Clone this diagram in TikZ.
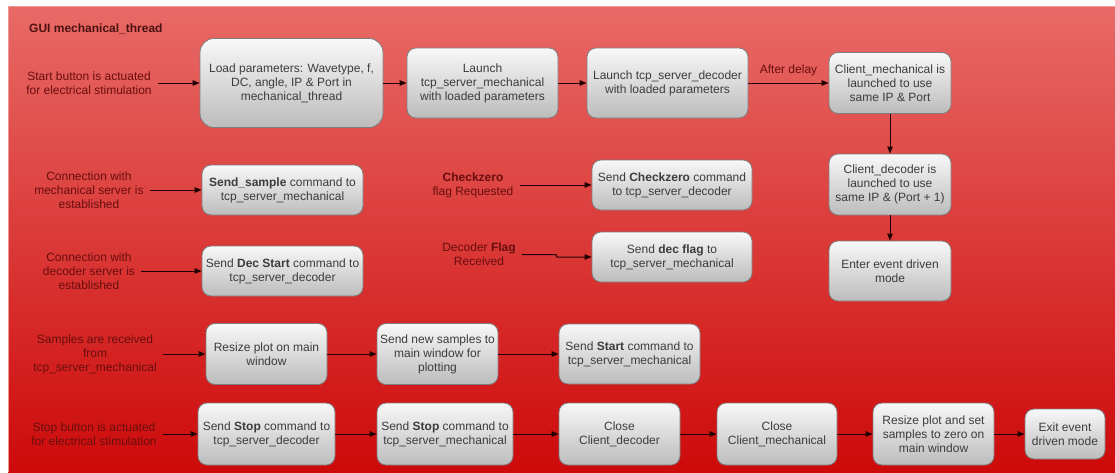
\documentclass[tikz,border=0pt]{standalone}
\usepackage{fontspec}
\setmainfont{Liberation Sans}
\usetikzlibrary{arrows.meta}

\definecolor{bgtop}{RGB}{232,106,102}
\definecolor{bgbot}{RGB}{205,10,10}
\definecolor{boxline}{RGB}{125,125,125}
\definecolor{boxtop}{RGB}{248,248,248}
\definecolor{boxbot}{RGB}{188,188,188}
\definecolor{boxtext}{RGB}{60,60,60}
\definecolor{lbltext}{RGB}{105,14,14}
\definecolor{titletext}{RGB}{75,18,18}
\definecolor{arrowline}{RGB}{35,0,0}

\tikzset{
  txt/.style={font=\fontsize{12}{14}\selectfont},
  box/.style={txt, draw=boxline, line width=0.8pt, rounded corners=9pt,
    top color=boxtop, bottom color=boxbot, text=boxtext, align=center,
    inner sep=2pt},
  lbl/.style={txt, text=lbltext, align=center, inner xsep=6pt, inner ysep=0pt},
  arr/.style={draw=arrowline, line width=1pt,
    -{Triangle[length=7pt,width=5.5pt]}},
}

\begin{document}
\begin{tikzpicture}[x=1pt,y=-1pt]
\useasboundingbox (0,0) rectangle (1115,472);

% red background panel
\shade[top color=bgtop, bottom color=bgbot] (8,6) rectangle (1115,472);
\draw[bgtop!70!white, line width=0.8pt] (8,6.4) -- (1115,6.4);
\draw[bgtop!70!white, line width=0.8pt] (8.4,6) -- (8.4,472);

\node[txt, font=\bfseries\fontsize{12}{14}\selectfont, text=titletext,
  anchor=west, inner sep=0pt] (title) at (29,29) {GUI mechanical\_thread};

% start sequence
\node[lbl] (startlbl) at (89,83) {Start button is actuated\\for electrical stimulation};
\node[box, minimum width=183, minimum height=89, rounded corners=14pt] (load) at (291.5,83)
  {Load parameters: Wavetype, f,\\DC, angle, IP \& Port in\\mechanical\_thread};
\node[box, minimum width=151, minimum height=70] (lsm) at (482.5,83)
  {Launch\\tcp\_server\_mechanical\\with loaded parameters};
\node[box, minimum width=161, minimum height=70] (lsd) at (667.5,83)
  {Launch tcp\_server\_decoder\\with loaded parameters};
\node[box, minimum width=122, minimum height=61] (cm) at (890,83)
  {Client\_mechanical is\\launched to use\\same IP \& Port};
\node[box, minimum width=122, minimum height=61] (cd) at (890,184.5)
  {Client\_decoder is\\launched to use\\same IP \& (Port + 1)};
\node[box, minimum width=122, minimum height=60] (ev) at (890,271)
  {Enter event driven\\mode};

\draw[arr] (startlbl.east) -- (load.west);
\draw[arr] (load.east) -- (lsm.west);
\draw[arr] (lsm.east) -- (lsd.west);
\draw[arr] (lsd.east) -- node[lbl, above=7pt, inner xsep=0pt] (delay) {After delay} (cm.west);
\draw[arr] (cm.south) -- (cd.north);
\draw[arr] (cd.south) -- (ev.north);

% server connections
\node[lbl] (mechlbl) at (89,190) {Connection with\\mechanical server is\\established};
\node[box, minimum width=161, minimum height=50] (ss) at (282.5,190)
  {\textbf{Send\_sample} command to\\tcp\_server\_mechanical};
\node[lbl] (declbl) at (89,271) {Connection with\\decoder server is\\established};
\node[box, minimum width=161, minimum height=50] (ds) at (282.5,271)
  {Send \textbf{Dec Start} command to\\tcp\_server\_decoder};
\draw[arr] (mechlbl.east) -- (ss.west);
\draw[arr] (declbl.east) -- (ds.west);

% flags
\node[lbl] (czlbl) at (473,185) {\textbf{Checkzero}\\flag Requested};
\node[box, minimum width=160, minimum height=50] (cz) at (672,185)
  {Send \textbf{Checkzero} command\\to tcp\_server\_decoder};
\node[lbl] (flaglbl) at (479,254.5) {Decoder \textbf{Flag}\\Received};
\node[box, minimum width=160, minimum height=50] (df) at (672,257)
  {Send \textbf{dec flag} to\\tcp\_server\_mechanical};
\draw[arr] (czlbl.east) -- (cz.west);
\draw[arr] (flaglbl.east) -- ++(34,0) -- ++(1,2.5) -- (df.west);

% samples
\node[lbl] (smplbl) at (95,354) {Samples are received\\from\\tcp\_server\_mechanical};
\node[box, minimum width=121, minimum height=61] (rp) at (266.5,354)
  {Resize plot on main\\window};
\node[box, minimum width=121, minimum height=61] (ns) at (437.5,354)
  {Send new samples to\\main window for\\plotting};
\node[box, minimum width=141, minimum height=60] (sst) at (629.5,354)
  {Send \textbf{Start} command to\\tcp\_server\_mechanical};
\draw[arr] (smplbl.east) -- (rp.west);
\draw[arr] (rp.east) -- (ns.west);
\draw[arr] (ns.east) -- (sst.west);

% stop sequence
\node[lbl] (stoplbl) at (94,434) {Stop button is actuated\\for electrical stimulation};
\node[box, minimum width=137, minimum height=62] (st1) at (266.5,434)
  {Send \textbf{Stop} command to\\tcp\_server\_decoder};
\node[box, minimum width=136, minimum height=62] (st2) at (445,434)
  {Send \textbf{Stop} command to\\tcp\_server\_mechanical};
\node[box, minimum width=121, minimum height=62] (cdec) at (619.5,434)
  {Close\\Client\_decoder};
\node[box, minimum width=120, minimum height=62] (cmech) at (777,434)
  {Close\\Client\_mechanical};
\node[box, minimum width=121, minimum height=62] (rs) at (933.5,434)
  {Resize plot and set\\samples to zero on\\main window};
\node[box, minimum width=80, minimum height=50] (ex) at (1065,434)
  {Exit event\\driven mode};
\draw[arr] (stoplbl.east) -- (st1.west);
\draw[arr] (st1.east) -- (st2.west);
\draw[arr] (st2.east) -- (cdec.west);
\draw[arr] (cdec.east) -- (cmech.west);
\draw[arr] (cmech.east) -- (rs.west);
\draw[arr] (rs.east) -- (ex.west);
\end{tikzpicture}
\end{document}
